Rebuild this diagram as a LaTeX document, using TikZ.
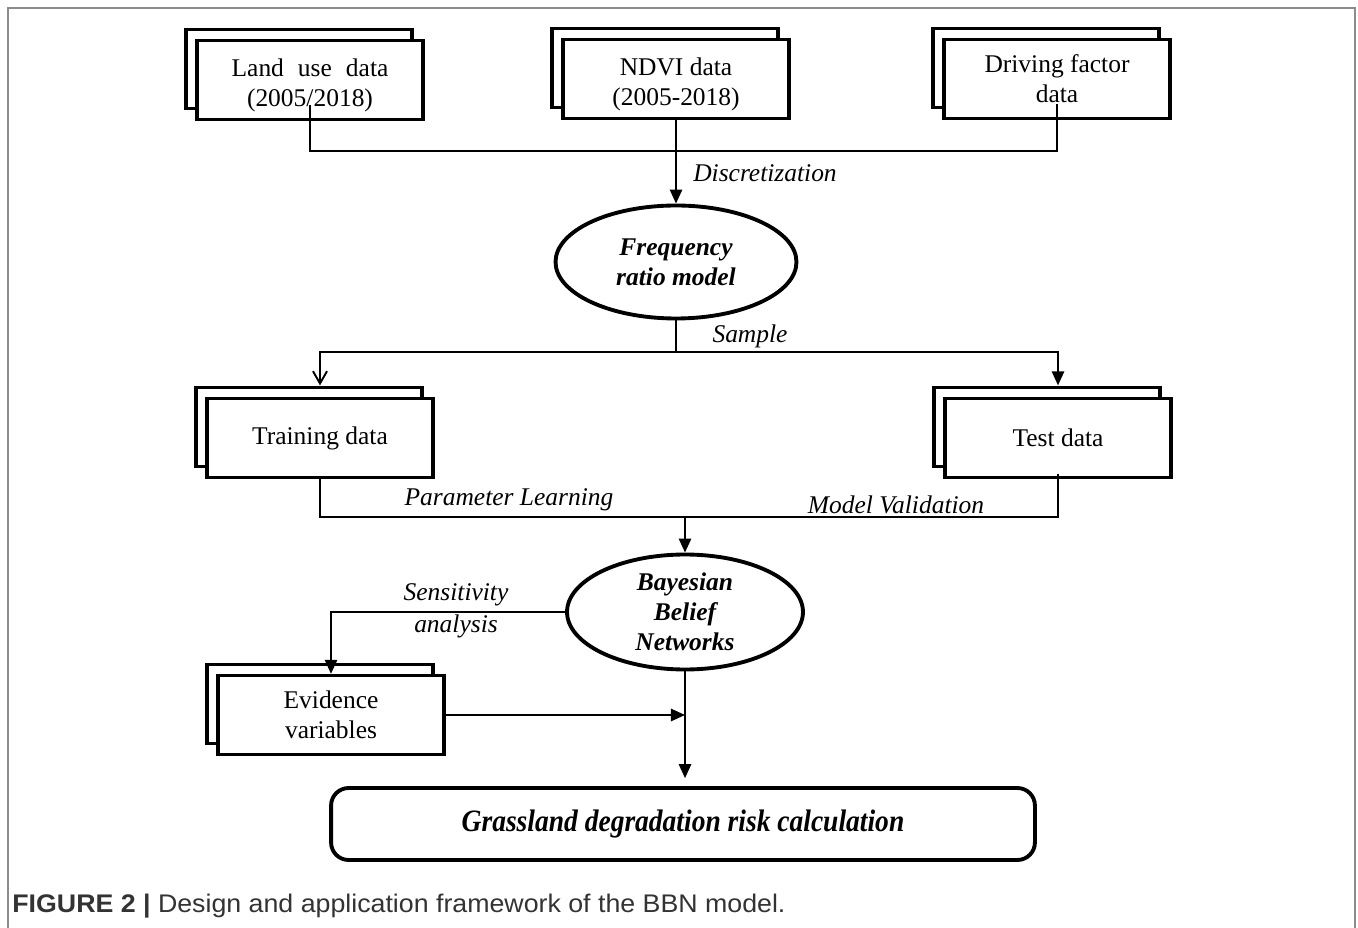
\documentclass[tikz,border=0pt]{standalone}
\usepackage{fontspec}
\usepackage{graphicx}
\setmainfont{Liberation Serif}
\setsansfont{Liberation Sans}
\usepackage{tikz}
\usetikzlibrary{arrows.meta,shapes.geometric,shadows}
\definecolor{framegray}{HTML}{8C8C8C}
\definecolor{captext}{HTML}{333333}
\newcommand{\fs}{\fontsize{14.5}{17}\selectfont}
\newcommand{\capfs}{\sffamily\fontsize{14.5}{16}\selectfont}
\newcommand{\lowr}{\rule{0pt}{16pt}}
\tikzset{
  stk/.style={rectangle, draw=black, fill=white, line width=1.9pt, minimum width=4.52cm,
              minimum height=1.58cm, inner sep=0pt, align=center, font=\fs,
              copy shadow={shadow xshift=-0.22cm, shadow yshift=0.22cm}},  % stacked data box
  ell/.style={ellipse, draw=black, fill=white, line width=2.2pt, inner sep=0pt,
              align=center, font=\fs\bfseries\itshape},                    % model ellipse
  ue/.style={draw=black, line width=1.1pt},                                % plain line
  de/.style={ue, -{Triangle[length=8pt,width=7pt]}},                       % filled arrow
  oe/.style={ue, -{Straight Barb[length=7pt,width=8pt]}},                  % open arrow
  lbl/.style={font=\fs\itshape, inner sep=1pt},                            % edge label
}

\begin{document}
\begin{tikzpicture}[x=0.02cm, y=-0.02cm]
  \useasboundingbox (0,0) rectangle (1358,928);
  \draw[framegray, line width=0.9pt] (8,928) -- (8,8) -- (1355,8) -- (1355,928);
  % data and models
  \node[stk] (luse)  at (310,80)   {\lowr Land\hspace{0.3em} use\hspace{0.3em} data\\(2005/2018)};
  \node[stk] (ndvi)  at (676,79)   {\lowr NDVI data\\(2005-2018)};
  \node[stk] (drive) at (1057,79)  {Driving factor\\data};
  \node[ell, minimum width=4.82cm, minimum height=2.26cm] (freq) at (676,262) {Frequency\\ratio model};
  \node[stk] (train) at (320,438)  {Training data};
  \node[stk] (test)  at (1058,438) {Test data};
  \node[ell, minimum width=4.72cm, minimum height=2.3cm] (bbn) at (685,612) {Bayesian\\Belief\\Networks};
  \node[stk] (evid)  at (331,715)  {Evidence\\variables};
  \node[draw=black, rounded corners=10pt, line width=2.2pt, minimum width=14.08cm, minimum height=1.44cm,
        font=\fs\bfseries\itshape] (grass) at (683,824) {\scalebox{1.08}[1.22]{Grassland degradation risk calculation}};
  \coordinate (jtop) at (676,151);
  \coordinate (jmid) at (676,352);
  \coordinate (jbot) at (685,517);
  % connectors
  \draw[ue] ([yshift=9pt]luse.south) |- (jtop) -| ([yshift=9pt]drive.south);
  \draw[de] (ndvi.south) -- (freq.north);
  \draw[ue] (freq.south) -- (jmid);
  \draw[oe] (jmid) -| ([yshift=6.5pt]train.north);
  \draw[de] (jmid) -| ([yshift=6.5pt]test.north);
  \draw[ue] (train.south) |- (jbot);
  \draw[ue] ([yshift=3pt]test.south) |- (jbot);
  \foreach \u/\v in {jbot/bbn.north, bbn.west/evid.north}
    \draw[de] (\u) -| (\v);
  \draw[de] (evid.east) -- (evid.east -| bbn.south);
  \draw[de, shorten >=4.5pt] (bbn.south) -- (bbn.south |- grass.north);
  % labels
  \node[lbl] (ldisc) at (765,173) {Discretization};
  \node[lbl] (lsamp) at (750,336) {Sample};
  \node[lbl] (lpar)  at (509,500) {Parameter Learning};
  \node[lbl] (lval)  at (896,505) {Model Validation};
  \node[lbl, align=center] (lsens) at (456,611) {Sensitivity\\[1.5pt]analysis};
  \node[anchor=west, font=\capfs, text=captext, inner sep=0pt] (cap) at (12,906)
    {\scalebox{1.05}[1]{\textbf{FIGURE 2 |} Design and application framework of the BBN model.}};
\end{tikzpicture}
\end{document}
